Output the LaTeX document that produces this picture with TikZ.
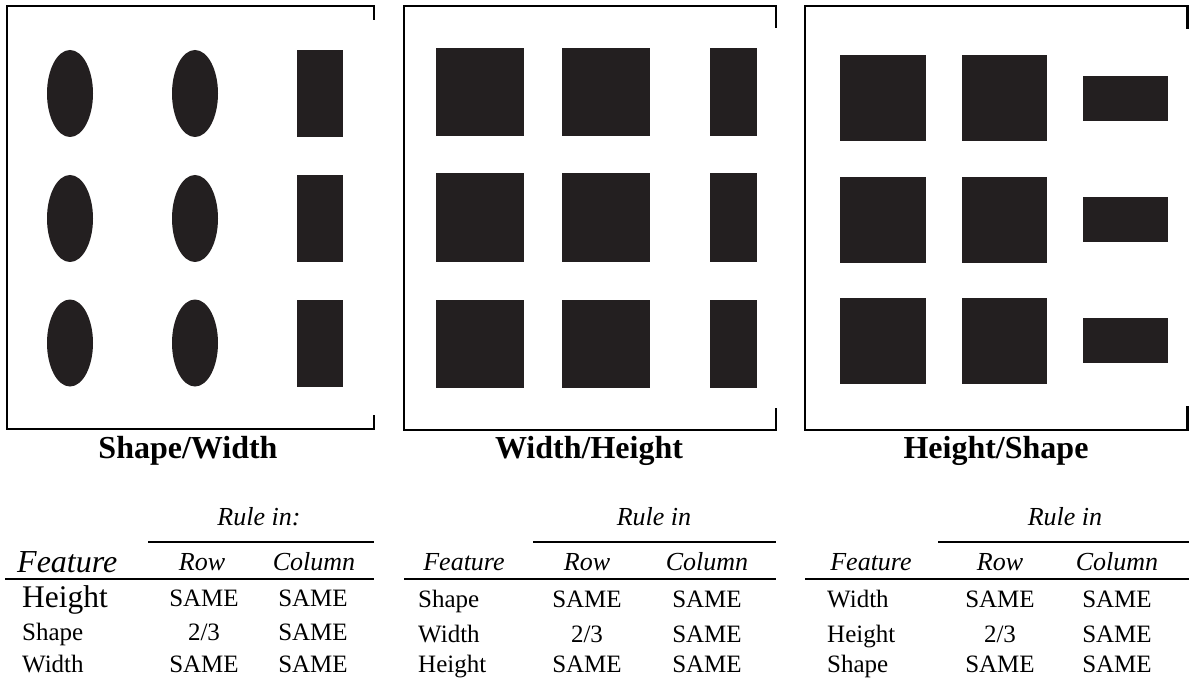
\documentclass[tikz,border=0pt]{standalone}
\usepackage{fontspec}
\setmainfont{Liberation Serif}
\definecolor{ink}{HTML}{231F20}
\begin{document}
\begin{tikzpicture}[x=1pt,y=-1pt,
  frame/.style={line width=2.5pt,black},
  rulel/.style={line width=2.2pt,black},
  blob/.style={fill=ink,draw=none},
  ttl/.style={font=\fontsize{32}{32}\selectfont\bfseries,anchor=base},
  hd/.style={font=\fontsize{26}{26}\selectfont\itshape,anchor=base},
  bigit/.style={font=\fontsize{32}{32}\selectfont\itshape,anchor=base west},
  cell/.style={font=\fontsize{25}{25}\selectfont,anchor=base},
  lab/.style={font=\fontsize{25}{25}\selectfont,anchor=base west},
  biglab/.style={font=\fontsize{31.5}{31.5}\selectfont,anchor=base west},
  inner sep=0pt]
\useasboundingbox (0,0) rectangle (1189,679);
% ---------- Panel 1 ----------
\draw[frame] (374,20) -- (374,6) -- (7,6) -- (7,429) -- (374,429) -- (374,415);
\foreach \cy in {93.5,218.5,343}{
  \fill[blob] (70,\cy) ellipse [x radius=23,y radius=43.5];
  \fill[blob] (195,\cy) ellipse [x radius=23,y radius=43.5];
}
\foreach \ty in {50,175,300}{
  \fill[blob] (297,\ty) rectangle (343,\ty+87);
}
% ---------- Panel 2 ----------
\draw[frame] (776,28) -- (776,6) -- (404,6) -- (404,430) -- (776,430) -- (776,408);
\foreach \ty in {48,173.5,299.5}{
  \fill[blob] (436,\ty) rectangle (524,\ty+88.5);
  \fill[blob] (562,\ty) rectangle (650,\ty+88.5);
  \fill[blob] (710,\ty) rectangle (757,\ty+88.5);
}
% ---------- Panel 3 ----------
\draw[frame] (1187.7,29) -- (1187.7,6) -- (805,6) -- (805,430) -- (1187.7,430) -- (1187.7,406);
\foreach \ty/\ry in {55/76,177/197,298/318}{
  \fill[blob] (840,\ty) rectangle (926,\ty+86);
  \fill[blob] (962,\ty) rectangle (1047,\ty+86);
  \fill[blob] (1083,\ry) rectangle (1168,\ry+45);
}
% ---------- Titles ----------
\node[ttl] (t1) at (188,458) {Shape/Width};
\node[ttl] (t2) at (589,458) {Width/Height};
\node[ttl] (t3) at (996,458) {Height/Shape};
% ---------- Table 1 ----------
\node[hd] (r1) at (259,525) {Rule in:};
\draw[rulel] (148,542) -- (374,542);
\node[bigit] (f1) at (17,572) {Feature};
\node[hd] (ro1) at (202,570) {Row};
\node[hd] (co1) at (314,570) {Column};
\draw[rulel] (5,579) -- (374,579);
\node[biglab] (a1) at (22,607) {Height};
\node[cell] (a1r) at (204,606) {SAME};
\node[cell] (a1c) at (313,606) {SAME};
\node[lab] (b1) at (22,640) {Shape};
\node[cell] (b1r) at (204,640) {2/3};
\node[cell] (b1c) at (313,640) {SAME};
\node[lab] (c1) at (22,672) {Width};
\node[cell] (c1r) at (204,672) {SAME};
\node[cell] (c1c) at (313,672) {SAME};
% ---------- Table 2 ----------
\node[hd] (r2) at (654,525) {Rule in};
\draw[rulel] (533,542) -- (776,542);
\node[hd] (f2) at (464,570) {Feature};
\node[hd] (ro2) at (587,570) {Row};
\node[hd] (co2) at (707,570) {Column};
\draw[rulel] (404,579) -- (776,579);
\node[lab] (a2) at (418,607) {Shape};
\node[cell] (a2r) at (587,607) {SAME};
\node[cell] (a2c) at (707,607) {SAME};
\node[lab] (b2) at (418,642) {Width};
\node[cell] (b2r) at (587,642) {2/3};
\node[cell] (b2c) at (707,642) {SAME};
\node[lab] (c2) at (418,672) {Height};
\node[cell] (c2r) at (587,672) {SAME};
\node[cell] (c2c) at (707,672) {SAME};
% ---------- Table 3 ----------
\node[hd] (r3) at (1065,525) {Rule in};
\draw[rulel] (938,542) -- (1189,542);
\node[hd] (f3) at (871,570) {Feature};
\node[hd] (ro3) at (1000,570) {Row};
\node[hd] (co3) at (1117,570) {Column};
\draw[rulel] (805,579) -- (1189,579);
\node[lab] (a3) at (827,607) {Width};
\node[cell] (a3r) at (1000,607) {SAME};
\node[cell] (a3c) at (1117,607) {SAME};
\node[lab] (b3) at (827,642) {Height};
\node[cell] (b3r) at (1000,642) {2/3};
\node[cell] (b3c) at (1117,642) {SAME};
\node[lab] (c3) at (827,672) {Shape};
\node[cell] (c3r) at (1000,672) {SAME};
\node[cell] (c3c) at (1117,672) {SAME};
\end{tikzpicture}
\end{document}
